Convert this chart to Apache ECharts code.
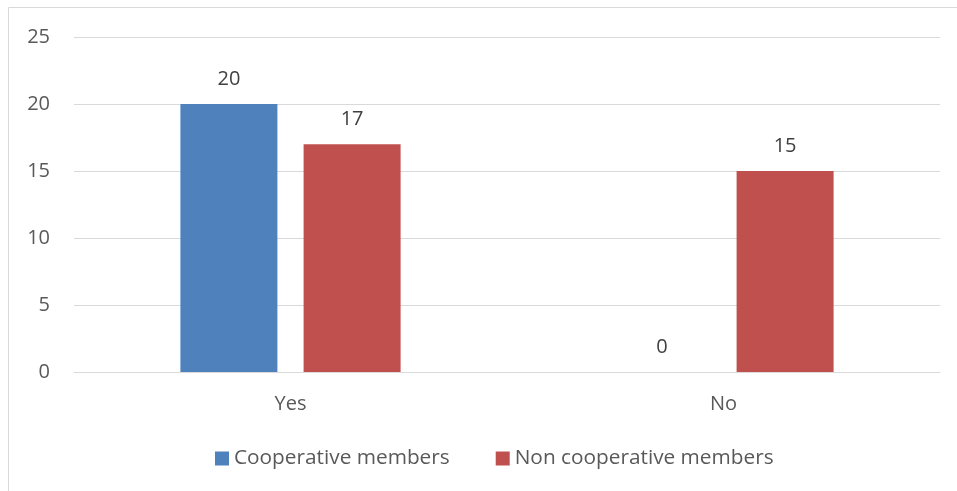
<!DOCTYPE html>
<html><head><meta charset="utf-8">
<style>html,body{margin:0;padding:0;background:#fff}#c{width:957px;height:491px}</style>
<script src="https://cdn.jsdelivr.net/npm/echarts@6/dist/echarts.min.js"></script>
</head><body><div id="c"></div>
<script>
const categories = ["Yes", "No"];
const cooperative = [20, 0];
const nonCooperative = [17, 15];
const seriesNames = ["Cooperative members", "Non cooperative members"];

const chart = echarts.init(document.getElementById('c'), null, {renderer: 'canvas'});
const font = "'Open Sans', sans-serif";
const txt = '#595959';
const fs = 20;
chart.setOption({
  animation: false,
  textStyle: {fontFamily: font},
  graphic: [{type: 'rect', shape: {x: 8.5, y: 7.5, width: 1000, height: 1000},
    style: {fill: 'none', stroke: '#d9d9d9', lineWidth: 1}, silent: true}],
  grid: {left: 74, right: 17, top: 37, bottom: 119, containLabel: false},
  legend: {
    top: 443, left: 210, itemWidth: 14, itemHeight: 14, itemGap: 46,
    icon: 'rect',
    textStyle: {color: txt, fontSize: 20.8, fontFamily: font},
    data: seriesNames
  },
  xAxis: {
    type: 'category', data: categories,
    axisLine: {lineStyle: {color: '#d9d9d9', width: 1}},
    axisTick: {show: false},
    axisLabel: {color: txt, fontSize: fs, margin: 22, fontFamily: font}
  },
  yAxis: {
    type: 'value', min: 0, max: 25, interval: 5,
    axisLine: {show: false}, axisTick: {show: false},
    splitLine: {lineStyle: {color: '#d9d9d9', width: 1}},
    axisLabel: {color: txt, fontSize: fs, margin: 24, fontFamily: font}
  },
  series: [
    {name: seriesNames[0], type: 'bar', data: cooperative, barWidth: 97, barGap: '27%',
     itemStyle: {color: '#4f81bd'},
     label: {show: true, position: 'top', distance: 15, color: '#404040', fontSize: fs, fontFamily: font}},
    {name: seriesNames[1], type: 'bar', data: nonCooperative, barWidth: 97,
     itemStyle: {color: '#c0504d'},
     label: {show: true, position: 'top', distance: 15, color: '#404040', fontSize: fs, fontFamily: font}}
  ]
});
</script></body></html>
